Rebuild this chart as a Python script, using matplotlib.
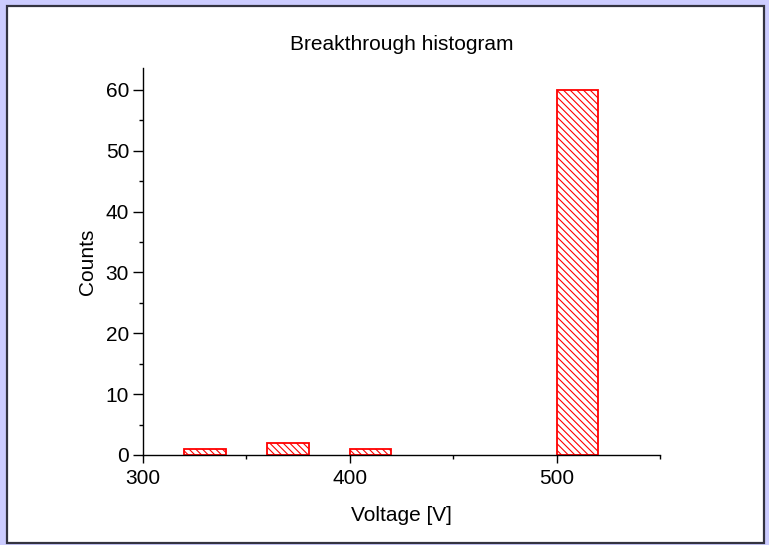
import matplotlib.pyplot as plt
from matplotlib.patches import Rectangle
from matplotlib.ticker import MultipleLocator

plt.rcParams['font.family'] = ['Liberation Sans', 'DejaVu Sans']
plt.rcParams['hatch.color'] = 'red'
plt.rcParams['hatch.linewidth'] = 0.8

# histogram bins (left edges) and counts
bin_left = [320, 360, 400, 500]
bin_width = 20
counts = [1, 2, 1, 60]

fig = plt.figure(figsize=(7.69, 5.45), dpi=100)
fig.patch.set_facecolor('#ccccff')

# white panel with dark border
W, H = 769, 545
panel = Rectangle((7 / W, 1 - 543 / H), (764 - 7) / W, (543 - 6) / H,
                  transform=fig.transFigure, facecolor='white',
                  edgecolor='#333340', linewidth=1.6, zorder=-5)
fig.patches.append(panel)

ax = fig.add_axes([143 / W, 1 - 455 / H, (660.5 - 143) / W, (455 - 68) / H])
ax.set_facecolor('none')

ax.bar(bin_left, counts, width=bin_width, align='edge', facecolor='white',
       edgecolor='red', hatch='\\\\\\\\\\', linewidth=1.3)

ax.set_xlim(300, 550)
ax.set_ylim(0, 63.6)
ax.xaxis.set_major_locator(MultipleLocator(100))
ax.xaxis.set_minor_locator(MultipleLocator(50))
ax.yaxis.set_major_locator(MultipleLocator(10))
ax.yaxis.set_minor_locator(MultipleLocator(5))
ax.spines['top'].set_visible(False)
ax.spines['right'].set_visible(False)
ax.tick_params(which='major', direction='out', length=6, width=1,
               labelsize=15, pad=4)
ax.tick_params(axis='y', which='major', length=7, pad=3)
ax.tick_params(which='minor', direction='out', length=3, width=1)
for sp in ax.spines.values():
    sp.set_linewidth(1)

ax.set_title('Breakthrough histogram', fontsize=15, pad=13)
ax.set_xlabel('Voltage [V]', fontsize=15, labelpad=13)
ax.set_ylabel('Counts', fontsize=15, labelpad=6)

fig.savefig('out.png', dpi=100, facecolor=fig.get_facecolor())
